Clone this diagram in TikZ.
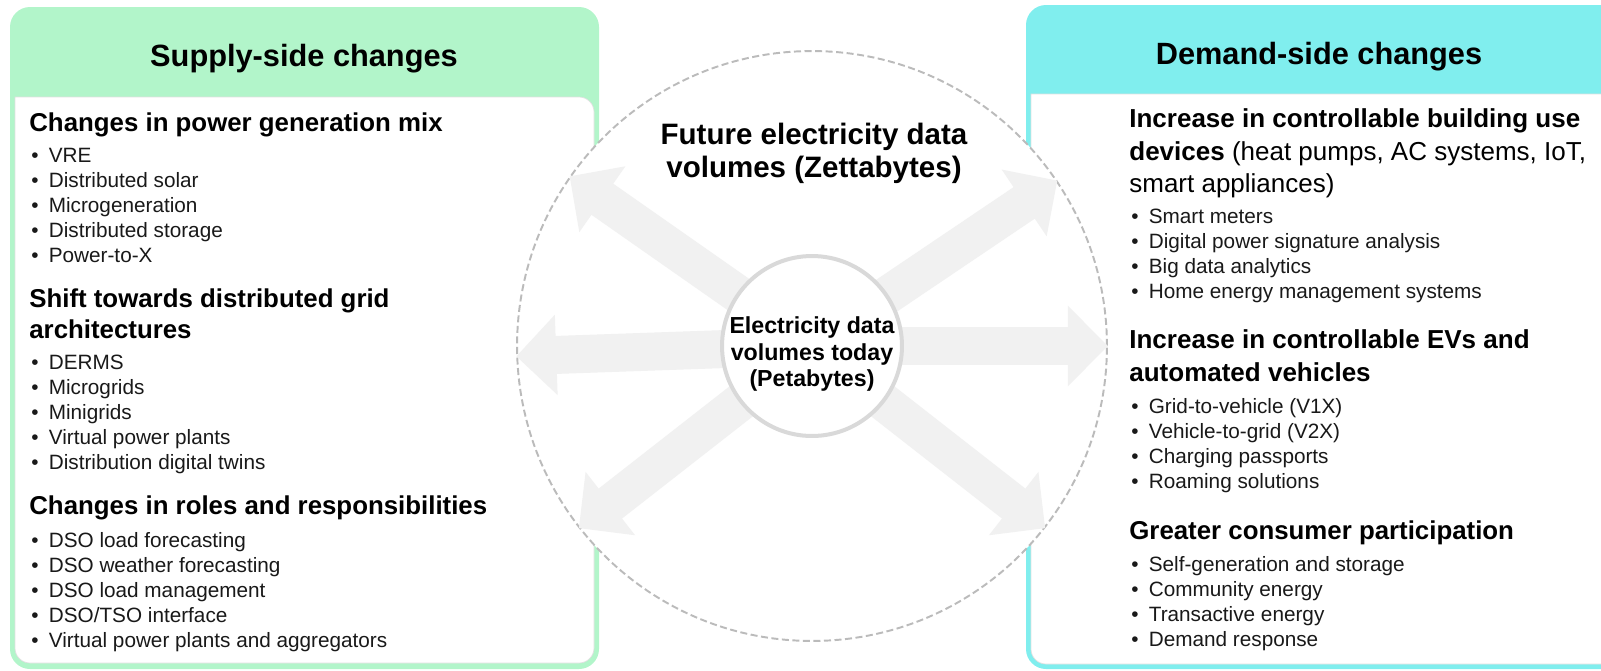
\documentclass[tikz,border=0pt]{standalone}
\usepackage{fontspec}
\setmainfont{Liberation Sans}
\usetikzlibrary{arrows.meta}
\definecolor{supgreen}{HTML}{B2F5CA}
\definecolor{demcyan}{HTML}{80EEEE}
\definecolor{arrowgray}{HTML}{F1F1F1}
\definecolor{ringgray}{HTML}{D9D9D9}
\definecolor{dashgray}{HTML}{BBBBBB}
\newcommand{\bul}{\makebox[0.35cm][l]{\textbullet}}
\tikzset{
    paneltitle/.style={font=\bfseries\fontsize{17.5}{20}\selectfont},
    subhead/.style={anchor=north west, inner sep=0pt, align=left, font=\bfseries\fontsize{14.7}{17.8}\selectfont},
    items/.style={anchor=north west, inner sep=0pt, align=left, text=black!90, font=\fontsize{11.8}{14.2}\selectfont},
    flow/.style={line width=0.76cm, arrowgray, -{Triangle[length=0.8cm,width=1.56cm]}}
}

\begin{document}
\begin{tikzpicture}[x=0.02cm,y=-0.02cm]
\useasboundingbox (0,0) rectangle (1601,670);
\clip (0,0) rectangle (1601,670);

% supply side panel
\fill[supgreen, rounded corners=0.4cm] (10,7) rectangle (599,669);
\filldraw[fill=white, draw=black!12, line width=0.4pt] (15,97) [rounded corners=0.3cm] -- (15,663) -- (594,663) -- (594,97) [sharp corners] -- cycle;
% demand side panel
\fill[demcyan, rounded corners=0.4cm] (1026,5) rectangle (1660,669);
\filldraw[fill=white, draw=black!12, line width=0.4pt] (1031,94) [rounded corners=0.3cm] -- (1031,664) -- (1650,664) -- (1650,94) [sharp corners] -- cycle;

\node[paneltitle] (suptitle) at (304,59) {Supply-side changes};
\node[paneltitle] (demtitle) at (1319,57) {Demand-side changes};

% big dashed circle and arrows
\coordinate (hub) at (812,346);
\node[circle, minimum size=11.8cm, inner sep=0pt, fill=white, draw=dashgray, line width=1.1pt, dash pattern=on 4pt off 2pt] (future) at (hub) {};
\draw[flow] (hub) -- (future.145.7);
\draw[flow] (hub) -- (future.182.2);
\draw[flow] (hub) -- (future.218.7);
\draw[flow] (hub) -- (future.34.4);
\draw[flow] (hub) -- (future.-0.8);
\draw[flow] (hub) -- (future.-38.7);
\node[circle, minimum size=3.6cm, inner sep=0pt, fill=white, draw=ringgray, line width=0.08cm] (today) at (hub) {};
\node[align=center, font=\bfseries\fontsize{13.2}{15}\selectfont] (todaytext) at (812,354) {Electricity data\\volumes today\\(Petabytes)};
\node[align=center, font=\bfseries\fontsize{16.8}{18.7}\selectfont] (futuretitle) at (814,153) {Future electricity data\\volumes (Zettabytes)};

% supply side text
\node[subhead] (genmix) at (29,112) {Changes in power generation mix};
\node[items] (genlist) at (31,148) {\bul VRE\\\bul Distributed solar\\\bul Microgeneration\\\bul Distributed storage\\\bul Power-to-X};
\node[subhead] (gridarch) at (29,288) {Shift towards distributed grid\\architectures};
\node[items] (gridlist) at (31,355) {\bul DERMS\\\bul Microgrids\\\bul Minigrids\\\bul Virtual power plants\\\bul Distribution digital twins};
\node[subhead] (roles) at (29,495) {Changes in roles and responsibilities};
\node[items] (rolelist) at (31,532) {\bul DSO load forecasting\\\bul DSO weather forecasting\\\bul DSO load management\\\bul DSO/TSO interface\\\bul Virtual power plants and aggregators};

% demand side text
\node[subhead, font=\bfseries\fontsize{14.8}{18.7}\selectfont] (building) at (1129,108) {Increase in controllable building use\\devices {\mdseries (heat pumps, AC systems, IoT,}\\{\mdseries smart appliances)}};
\node[items] (buildlist) at (1131,209) {\bul Smart meters\\\bul Digital power signature analysis\\\bul Big data analytics\\\bul Home energy management systems};
\node[subhead, font=\bfseries\fontsize{14.8}{18.7}\selectfont] (evs) at (1129,329) {Increase in controllable EVs and\\automated vehicles};
\node[items] (evlist) at (1131,398) {\bul Grid-to-vehicle (V1X)\\\bul Vehicle-to-grid (V2X)\\\bul Charging passports\\\bul Roaming solutions};
\node[subhead] (consumer) at (1129,520) {Greater consumer participation};
\node[items] (conslist) at (1131,556) {\bul Self-generation and storage\\\bul Community energy\\\bul Transactive energy\\\bul Demand response};
\end{tikzpicture}
\end{document}
